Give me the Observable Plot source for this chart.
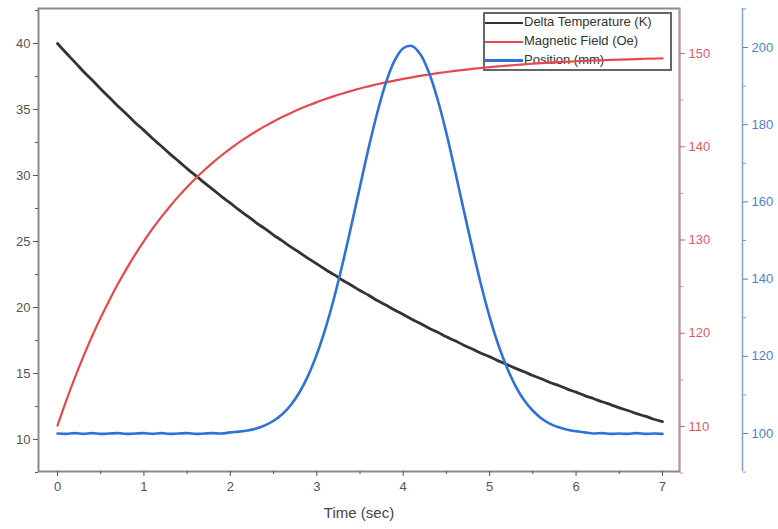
<!DOCTYPE html>
<html><head><meta charset="utf-8">
<script src="https://cdn.jsdelivr.net/npm/d3@7"></script>
<script src="https://cdn.jsdelivr.net/npm/@observablehq/plot@0.6"></script>
<style>
body{margin:0;background:#fff;}
#chart{position:relative;width:778px;height:529px;font-family:"Liberation Sans",Arial,sans-serif;}
#chart svg{position:absolute;left:0;top:0;}
#legend{position:absolute;left:483px;top:12px;width:185px;height:55px;border:2px solid #666;background:#fff;font-size:13px;color:#333;}
.row{position:absolute;left:0;height:18px;line-height:18px;white-space:nowrap;}
.row span.sw{display:inline-block;width:38px;vertical-align:middle;margin-right:1px;}
</style>
</head><body>
<div id="chart"></div>
<script>
const time = [0,0.1,0.2,0.3,0.4,0.5,0.6,0.7,0.8,0.9,1,1.1,1.2,1.3,1.4,1.5,1.6,1.7,1.8,1.9,2,2.1,2.2,2.3,2.4,2.5,2.6,2.7,2.8,2.9,3,3.1,3.2,3.3,3.4,3.5,3.6,3.7,3.8,3.9,4,4.1,4.2,4.3,4.4,4.5,4.6,4.7,4.8,4.9,5,5.1,5.2,5.3,5.4,5.5,5.6,5.7,5.8,5.9,6,6.1,6.2,6.3,6.4,6.5,6.6,6.7,6.8,6.9,7];
const deltaTemp = [40.00,39.28,38.59,37.88,37.23,36.55,35.91,35.25,34.64,34.00,33.42,32.80,32.23,31.64,31.09,30.52,29.99,29.44,28.93,28.40,27.91,27.39,26.92,26.42,25.97,25.49,25.05,24.59,24.17,23.72,23.31,22.88,22.49,22.07,21.69,21.29,20.93,20.53,20.19,19.81,19.48,19.11,18.79,18.43,18.12,17.78,17.48,17.15,16.86,16.54,16.27,15.96,15.69,15.39,15.14,14.85,14.60,14.32,14.09,13.82,13.59,13.33,13.11,12.86,12.65,12.40,12.20,11.96,11.77,11.54,11.36];
const magField = [110.10,112.75,115.22,117.52,119.67,121.68,123.55,125.30,126.93,128.46,129.88,131.21,132.45,133.60,134.68,135.69,136.63,137.51,138.33,139.09,139.80,140.47,141.09,141.67,142.21,142.72,143.19,143.63,144.04,144.43,144.79,145.12,145.43,145.72,145.99,146.25,146.48,146.71,146.91,147.10,147.28,147.45,147.61,147.75,147.89,148.02,148.14,148.25,148.35,148.45,148.54,148.62,148.70,148.77,148.84,148.91,148.97,149.02,149.07,149.12,149.17,149.21,149.25,149.28,149.32,149.35,149.38,149.41,149.44,149.46,149.48];
const position = [100.0,99.9,100.1,99.9,100.1,99.9,100.0,100.1,99.9,100.0,100.1,99.9,100.1,99.9,100.0,100.1,99.9,100.0,100.1,100.0,100.3,100.5,100.8,101.3,102.1,103.3,105.0,107.4,110.7,115.0,120.5,127.2,135.1,144.1,153.9,164.0,174.0,183.1,190.9,196.6,199.8,200.4,198.2,193.4,186.4,177.8,168.0,157.9,148.0,138.6,130.2,123.0,117.1,112.3,108.6,105.9,103.9,102.5,101.6,101.0,100.6,100.3,100.0,100.1,99.9,100.0,99.9,100.1,99.9,100.0,99.9];

const xTicks = [0,1,2,3,4,5,6,7];
const xMinor = [0.5,1.5,2.5,3.5,4.5,5.5,6.5];
const leftTicks = [10,15,20,25,30,35,40];
const leftMinor = [7.5,12.5,17.5,22.5,27.5,32.5,37.5,42.5];
const redTicks = [110,120,130,140,150];
const redMinor = [105,115,125,135,145];
const blueTicks = [100,120,140,160,180,200];
const blueMinor = [90,110,130,150,170,190,210];
const seriesNames = ["Delta Temperature (K)","Magnetic Field (Oe)","Position (mm)"];
const seriesColors = ["#333333","#e8474c","#2e72d8"];

const rows = time.map((t,i)=>({t, dT: deltaTemp[i], B: magField[i], P: position[i]}));

const W = 778, H = 529;
const common = {width: W, height: H, marginLeft: 38, marginRight: 99, marginTop: 8, marginBottom: 58,
  style: {background: "none", fontFamily: '"Liberation Sans", Arial, sans-serif', fontSize: "13px", overflow: "visible"}};
const xDomain = [-0.22, 7.197];
const chart = document.getElementById("chart");

const p1 = Plot.plot({...common,
  x: {domain: xDomain}, y: {domain: [7.58, 42.65]},
  marks: [
    Plot.frame({stroke: "#8a8a8a", strokeWidth: 2}),
    Plot.axisX({ticks: xTicks, tickSize: 5, tickPadding: 5, label: null, color: "#555"}),
    Plot.axisX({ticks: xMinor, tickSize: 3, tickFormat: () => "", label: null, color: "#555"}),
    Plot.axisY({anchor: "left", ticks: leftTicks, tickSize: 5, tickPadding: 3, label: null, color: "#555"}),
    Plot.axisY({anchor: "left", ticks: leftMinor.filter(v=>v<42.6), tickSize: 3, tickFormat: () => "", label: null, color: "#555"}),
    Plot.text(["Time (sec)"], {frameAnchor: "bottom", dy: 46, fontSize: 15, fill: "#444"}),
    Plot.line(rows, {x: "t", y: "dT", stroke: seriesColors[0], strokeWidth: 2.8, curve: "catmull-rom"})
  ]});
chart.appendChild(p1);

const legend = document.createElement("div");
legend.id = "legend";
seriesNames.forEach((n,i)=>{
  const r = document.createElement("div");
  r.className = "row";
  r.style.top = (-1 + i*19) + "px";
  r.innerHTML = `<span class="sw" style="border-top:${i==2?3:2}px solid ${seriesColors[i]}"></span>${n}`;
  legend.appendChild(r);
});
chart.appendChild(legend);

const p2 = Plot.plot({...common,
  x: {domain: xDomain, axis: null}, y: {domain: [105.17, 154.83]},
  marks: [
    Plot.ruleX([xDomain[1]], {stroke: "#e8868a", strokeWidth: 1.5}),
    Plot.axisY({anchor: "right", ticks: redTicks, tickSize: 5, tickPadding: 4, label: null, color: "#e05a5f"}),
    Plot.axisY({anchor: "right", ticks: redMinor, tickSize: 3, tickFormat: () => "", label: null, color: "#e8868a"}),
    Plot.line(rows, {x: "t", y: "B", stroke: seriesColors[1], strokeWidth: 2.2, curve: "catmull-rom"})
  ]});
chart.appendChild(p2);

const p3 = Plot.plot({...common,
  x: {domain: xDomain, axis: null}, y: {domain: [90.16, 210.1]},
  marks: [
    Plot.ruleX([xDomain[1]], {dx: 63, stroke: "#7e9fdc", strokeWidth: 1.5}),
    Plot.axisY({anchor: "right", dx: 63, ticks: blueTicks, tickSize: 5, tickPadding: 4, label: null, color: "#4f7fcf"}),
    Plot.axisY({anchor: "right", dx: 63, ticks: blueMinor, tickSize: 3, tickFormat: () => "", label: null, color: "#7e9fdc"}),
    Plot.line(rows, {x: "t", y: "P", stroke: seriesColors[2], strokeWidth: 2.6, curve: "catmull-rom"})
  ]});
chart.appendChild(p3);
</script>
</body></html>
